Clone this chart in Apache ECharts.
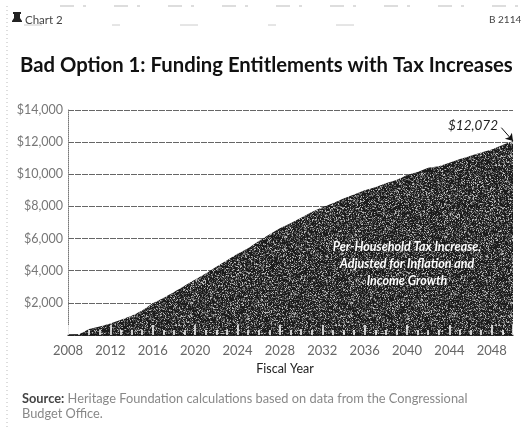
<!DOCTYPE html>
<html>
<head>
<meta charset="utf-8">
<style>html,body{margin:0;padding:0;background:#fff}#chart{width:522px;height:436px}</style>
<script src="https://cdn.jsdelivr.net/npm/echarts@6/dist/echarts.min.js"></script>
</head>
<body>
<div id="chart"></div>
<script>
// Fiscal years and the per-household tax increase for each one, in dollars
const years = [2008,2009,2010,2011,2012,2013,2014,2015,2016,2017,2018,2019,2020,2021,
  2022,2023,2024,2025,2026,2027,2028,2029,2030,2031,2032,2033,2034,2035,2036,2037,
  2038,2039,2040,2041,2042,2043,2044,2045,2046,2047,2048,2049,2050];
const taxIncrease = [0,30,370,530,720,950,1200,1530,1980,2300,2680,3060,3450,3830,
  4250,4650,5050,5400,5850,6250,6650,6950,7300,7650,7950,8200,8500,8750,9000,9200,
  9450,9650,9950,10150,10400,10500,10720,10950,11150,11350,11550,11830,12072];
const chartTitle = 'Bad Option 1: Funding Entitlements with Tax Increases';
const areaNote = 'Per-Household Tax Increase,\nAdjusted for Inflation and\nIncome Growth';

// Printed halftone grain for the filled area
function grainTexture() {
  const size = 160;
  const c = document.createElement('canvas');
  c.width = c.height = size;
  const g = c.getContext('2d');
  const img = g.createImageData(size, size);
  let s = 12345;
  for (let i = 0; i < size * size; i++) {
    s = (s * 1103515245 + 12345) & 0x7fffffff;
    const r = (s >> 12) % 100;
    const v = r < 52 ? 28 : r < 75 ? 72 : r < 91 ? 120 : 185;
    img.data.set([v, v, v, 255], i * 4);
  }
  g.putImageData(img, 0, 0);
  return c;
}

const sans = 'Lato, "Open Sans", sans-serif';
const chart = echarts.init(document.getElementById('chart'), null, {renderer: 'canvas'});
chart.setOption({
  animation: false,
  backgroundColor: '#fff',
  grid: {left: 68, right: 9, top: 110, bottom: 101},
  xAxis: {
    type: 'value', min: 2008, max: 2050, interval: 4, z: 5,
    splitLine: {show: false},
    axisLine: {lineStyle: {color: '#111', width: 1.5}},
    axisTick: {show: true, inside: true, length: 10, lineStyle: {color: '#fff', width: 1.5}},
    minorTick: {show: true, splitNumber: 4, length: 5, lineStyle: {color: '#fff', width: 1.5}},
    axisLabel: {
      color: '#666', fontFamily: sans, fontSize: 13, margin: 9, showMaxLabel: false,
      formatter: v => String(v)
    },
    name: 'Fiscal Year', nameLocation: 'middle', nameGap: 27,
    nameTextStyle: {color: '#222', fontFamily: sans, fontSize: 12.5, padding: [0, 11, 0, 0]}
  },
  yAxis: {
    type: 'value', min: 0, max: 14000, interval: 2000,
    axisLine: {show: true, lineStyle: {color: '#777', type: 'dotted', width: 1}},
    axisTick: {show: false},
    splitLine: {lineStyle: {color: '#666', type: [6, 1], width: 1}},
    axisLabel: {
      color: '#777', fontFamily: sans, fontSize: 12.5, margin: 5,
      formatter: v => v === 0 ? '' : '$' + v.toLocaleString('en-US')
    }
  },
  series: [{
    type: 'line',
    data: years.map((y, i) => [y, taxIncrease[i]]),
    symbol: 'none',
    lineStyle: {width: 0},
    areaStyle: {opacity: 1, color: {image: grainTexture(), repeat: 'repeat'}},
    markLine: {
      silent: true,
      symbol: ['none', 'arrow'],
      symbolSize: 7,
      label: {show: false},
      lineStyle: {color: '#111', type: 'solid', width: 1},
      data: [[
        {coord: [2048.9, 12900]},
        {coord: [years[years.length - 1], taxIncrease[taxIncrease.length - 1]]}
      ]]
    }
  }],
  title: [
    {text: chartTitle, left: 15, top: 50,
     textStyle: {fontFamily: sans, fontWeight: 700, fontSize: 20.3, color: '#111'}},
    {text: 'Chart 2', left: 20, top: 9,
     textStyle: {fontFamily: sans, fontWeight: 400, fontSize: 11.5, color: '#444'}},
    {text: 'B 2114', left: 484, top: 10,
     textStyle: {fontFamily: sans, fontWeight: 400, fontSize: 10, color: '#444'}},
    {text: '$' + taxIncrease[taxIncrease.length - 1].toLocaleString('en-US'), left: 443, top: 114,
     textStyle: {fontFamily: sans, fontStyle: 'italic', fontWeight: 400, fontSize: 13.5, color: '#222'}},
    {text: areaNote, left: 402, top: 233, textAlign: 'center',
     textStyle: {fontFamily: sans, fontStyle: 'italic', fontWeight: 700, fontSize: 12.5, lineHeight: 17,
                 color: '#fff', align: 'center', textShadowColor: '#1a1a1a', textShadowBlur: 3}}
  ],
  graphic: [
    // Bell mark beside the chart number
    {type: 'polygon', shape: {
      points: [[13,12],[21,12],[21,14],[20,14],[20,18],[22,21],[22,22],[12,22],[12,21],[14,18],[14,14],[13,14]]
    }, style: {fill: '#222'}},
    // Page edge and rules of the scanned sheet
    {type: 'line', shape: {x1: 7, y1: 6, x2: 7, y2: 430},
     style: {stroke: '#bbb', lineWidth: 1, lineDash: [1, 3]}},
    {type: 'line', shape: {x1: 60, y1: 6, x2: 518, y2: 6},
     style: {stroke: '#bbb', lineWidth: 1, lineDash: [14, 9, 3, 28]}},
    {type: 'line', shape: {x1: 24, y1: 25, x2: 400, y2: 25},
     style: {stroke: '#ccc', lineWidth: 1, lineDash: [18, 70, 8, 60]}},
    {type: 'text', left: 22, top: 391, style: {
      text: '{b|Source:} Heritage Foundation calculations based on data from the Congressional\nBudget Office.',
      fontFamily: sans, fontSize: 12.8, lineHeight: 15.5, fill: '#888',
      rich: {b: {fontWeight: 700, fontFamily: sans, fontSize: 12.8, fill: '#444'}}
    }}
  ]
});
</script>
</body>
</html>
